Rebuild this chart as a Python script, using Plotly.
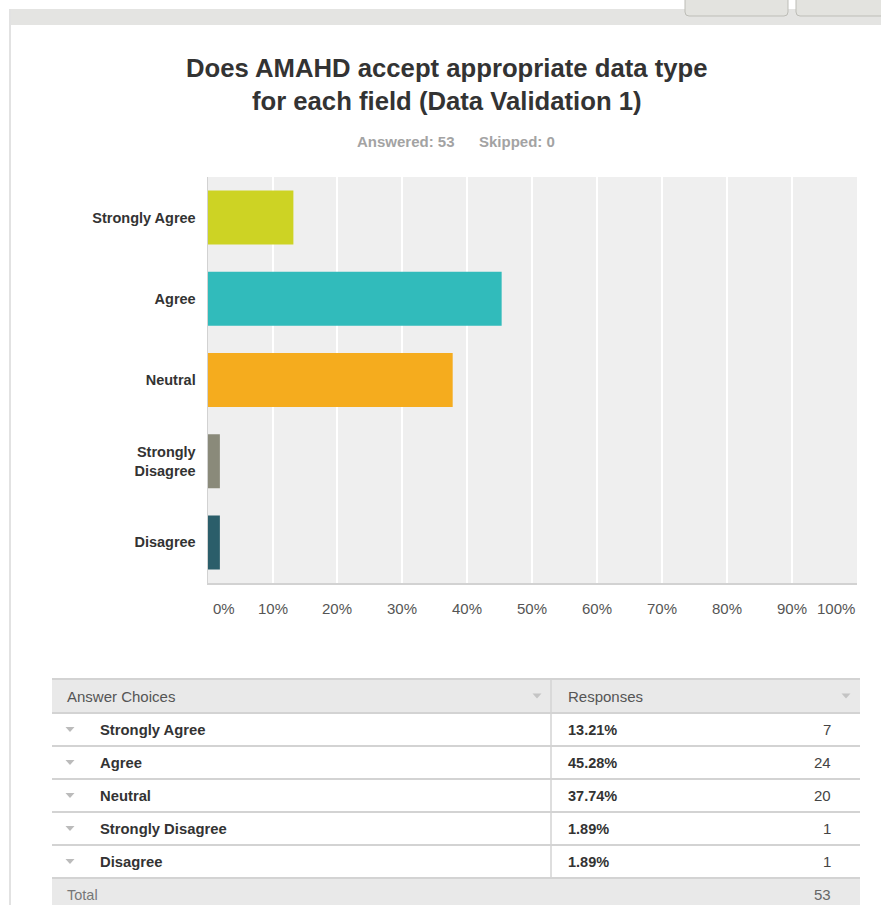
import plotly.graph_objects as go

# Survey results
question = "Does AMAHD accept appropriate data type<br>for each field (Data Validation 1)"
choices = ["Strongly Agree", "Agree", "Neutral", "Strongly Disagree", "Disagree"]
axis_labels = ["Strongly Agree", "Agree", "Neutral", "Strongly<br>Disagree", "Disagree"]
percents = [13.21, 45.28, 37.74, 1.89, 1.89]
counts = [7, 24, 20, 1, 1]
answered = 53
skipped = 0
total = 53
bar_colors = ["#cdd324", "#31bbbb", "#f5ac1e", "#8a8a7a", "#2b5e6a"]
x_ticks = [0, 10, 20, 30, 40, 50, 60, 70, 80, 90, 100]
x_tick_labels = [f"{t}%" for t in x_ticks]

W, H = 881, 905
FONT = "Liberation Sans, Arial, sans-serif"


def px(x):
    return x / W


def py(y):
    return 1 - y / H


fig = go.Figure()
fig.add_trace(go.Bar(
    x=percents,
    y=axis_labels,
    orientation="h",
    marker=dict(color=bar_colors, line=dict(width=0)),
    hoverinfo="skip",
))

shapes = []
annotations = []

# page chrome: top band, buttons, left border
shapes.append(dict(type="rect", xref="paper", yref="paper", x0=px(9), x1=px(881),
                   y0=py(25), y1=py(9), fillcolor="#e4e4e2", line=dict(width=0), layer="below"))
shapes.append(dict(type="rect", xref="paper", yref="paper", x0=px(9), x1=px(11),
                   y0=py(905), y1=py(9), fillcolor="#e2e2e2", line=dict(width=0), layer="below"))
for bx0, bx1 in [(685, 788), (796, 890)]:
    r = 4
    path = (f"M {px(bx0)} {py(-2)} L {px(bx0)} {py(16 - r)} "
            f"Q {px(bx0)} {py(16)} {px(bx0 + r)} {py(16)} "
            f"L {px(bx1 - r)} {py(16)} Q {px(bx1)} {py(16)} {px(bx1)} {py(16 - r)} "
            f"L {px(bx1)} {py(-2)} Z")
    shapes.append(dict(type="path", xref="paper", yref="paper", path=path,
                       fillcolor="#e3e3df", line=dict(color="#bdbdb7", width=1)))

# title and answered / skipped line
annotations.append(dict(text=f"<b>{question}</b>", x=px(446), y=py(84.5), xref="paper", yref="paper",
                        showarrow=False, xanchor="center", yanchor="middle",
                        font=dict(family=FONT, size=25.7, color="#333333")))
annotations.append(dict(text=f"<b>Answered: {answered}</b>", x=px(457), y=py(141), xref="paper",
                        yref="paper", showarrow=False, xanchor="right", yanchor="middle",
                        font=dict(family=FONT, size=15, color="#a3a3a3")))
annotations.append(dict(text=f"<b>Skipped: {skipped}</b>", x=px(477), y=py(141), xref="paper",
                        yref="paper", showarrow=False, xanchor="left", yanchor="middle",
                        font=dict(family=FONT, size=15, color="#a3a3a3")))

# x-axis tick labels: end labels kept inside the plot width
for i, (t, lab) in enumerate(zip(x_ticks, x_tick_labels)):
    anchor = "left" if i == 0 else ("right" if i == len(x_ticks) - 1 else "center")
    shift = 3 if i == 0 else 0
    annotations.append(dict(text=lab, x=t, y=py(608), xref="x", yref="paper", xshift=shift,
                            showarrow=False, xanchor=anchor, yanchor="middle",
                            font=dict(family=FONT, size=15, color="#555555")))

# response table
T_L, T_R, T_DIV = 52, 860, 551
T_TOP, HEAD_B = 679, 713
ROW_H = 33
n = len(choices)
rows_bottom = HEAD_B + ROW_H * n
LINE = "#d3d3d3"

shapes.append(dict(type="rect", xref="paper", yref="paper", x0=px(T_L), x1=px(T_R),
                   y0=py(H), y1=py(rows_bottom), fillcolor="#e9e9e9", line=dict(width=0)))
shapes.append(dict(type="rect", xref="paper", yref="paper", x0=px(T_L), x1=px(T_R),
                   y0=py(HEAD_B), y1=py(T_TOP), fillcolor="#e9e9e9", line=dict(width=0)))
for yy in [T_TOP] + [HEAD_B + ROW_H * i for i in range(n + 1)]:
    shapes.append(dict(type="line", xref="paper", yref="paper", x0=px(T_L), x1=px(T_R),
                       y0=py(yy), y1=py(yy), line=dict(color=LINE, width=2)))
shapes.append(dict(type="line", xref="paper", yref="paper", x0=px(T_DIV), x1=px(T_DIV),
                   y0=py(T_TOP), y1=py(rows_bottom), line=dict(color=LINE, width=1.5)))


def tri(cx, cy, w=9, h=5, color="#bbbbbb"):
    p = (f"M {px(cx - w / 2)} {py(cy - h / 2)} L {px(cx + w / 2)} {py(cy - h / 2)} "
         f"L {px(cx)} {py(cy + h / 2)} Z")
    return dict(type="path", xref="paper", yref="paper", path=p, fillcolor=color, line=dict(width=0))


head_y = (T_TOP + HEAD_B) / 2
shapes.append(tri(537, head_y, color="#c4c4c4"))
shapes.append(tri(846, head_y, color="#c4c4c4"))
annotations.append(dict(text="Answer Choices", x=px(65), y=py(head_y), xref="paper", yref="paper",
                        showarrow=False, xanchor="left", yanchor="middle",
                        font=dict(family=FONT, size=15, color="#555555")))
annotations.append(dict(text="Responses", x=px(566), y=py(head_y), xref="paper", yref="paper",
                        showarrow=False, xanchor="left", yanchor="middle",
                        font=dict(family=FONT, size=15, color="#555555")))

for i, (c, p, k) in enumerate(zip(choices, percents, counts)):
    cy = HEAD_B + ROW_H * i + ROW_H / 2
    shapes.append(tri(70, cy))
    annotations.append(dict(text=f"<b>{c}</b>", x=px(98), y=py(cy), xref="paper", yref="paper",
                            showarrow=False, xanchor="left", yanchor="middle",
                            font=dict(family=FONT, size=14.8, color="#333333")))
    annotations.append(dict(text=f"<b>{p:.2f}%</b>", x=px(566), y=py(cy), xref="paper", yref="paper",
                            showarrow=False, xanchor="left", yanchor="middle",
                            font=dict(family=FONT, size=14.5, color="#333333")))
    annotations.append(dict(text=f"{k}", x=px(833), y=py(cy), xref="paper", yref="paper",
                            showarrow=False, xanchor="right", yanchor="middle",
                            font=dict(family=FONT, size=15, color="#444444")))

tot_y = rows_bottom + ROW_H / 2
annotations.append(dict(text="Total", x=px(65), y=py(tot_y), xref="paper", yref="paper",
                        showarrow=False, xanchor="left", yanchor="middle",
                        font=dict(family=FONT, size=14.5, color="#777777")))
annotations.append(dict(text=f"{total}", x=px(833), y=py(tot_y), xref="paper", yref="paper",
                        showarrow=False, xanchor="right", yanchor="middle",
                        font=dict(family=FONT, size=15, color="#666666")))

fig.update_layout(
    width=W, height=H,
    autosize=False,
    margin=dict(l=0, r=0, t=0, b=0, pad=0),
    paper_bgcolor="#ffffff",
    plot_bgcolor="#efefef",
    showlegend=False,
    bargap=0.335,
    shapes=shapes,
    annotations=annotations,
    xaxis=dict(
        domain=[px(207.6), px(857)],
        range=[0, 100],
        tickvals=x_ticks,
        showticklabels=False,
        showgrid=True, gridcolor="#ffffff", gridwidth=1.5,
        zeroline=False,
        showline=True, linecolor="#d2d2d2", linewidth=2,
        ticks="",
        automargin=False,
        fixedrange=True,
    ),
    yaxis=dict(
        domain=[py(583), py(177)],
        categoryorder="array",
        categoryarray=axis_labels,
        autorange="reversed",
        showgrid=False, zeroline=False,
        showline=True, linecolor="#d2d2d2", linewidth=1,
        ticks="", ticklabelstandoff=8,
        tickfont=dict(family=FONT, size=14.5, color="#333333", weight="bold"),
        automargin=False,
        fixedrange=True,
    ),
)

fig.write_html("out.html", config={"displayModeBar": False, "responsive": False})
